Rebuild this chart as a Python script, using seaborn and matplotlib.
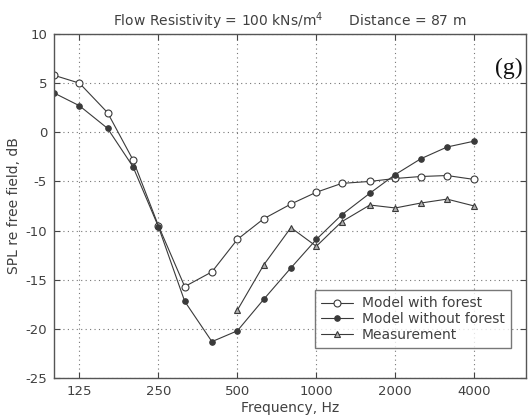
import matplotlib
matplotlib.use("Agg")
import matplotlib.pyplot as plt
import seaborn as sns
import pandas as pd
import numpy as np

sns.set_theme(style="white")
plt.rcParams['font.family'] = ['DejaVu Sans']

freq_model = [100, 125, 160, 200, 250, 315, 400, 500, 630, 800, 1000, 1250, 1600, 2000, 2500, 3150, 4000]
with_forest = [5.8, 5.0, 2.0, -2.8, -9.5, -15.7, -14.2, -10.9, -8.8, -7.3, -6.1, -5.2, -5.0, -4.7, -4.5, -4.4, -4.8]
without_forest = [4.0, 2.7, 0.4, -3.5, -9.6, -17.2, -21.3, -20.2, -17.0, -13.8, -10.9, -8.4, -6.2, -4.3, -2.7, -1.5, -0.9]
freq_meas = [500, 630, 800, 1000, 1250, 1600, 2000, 2500, 3150, 4000]
measurement = [-18.1, -13.5, -9.7, -11.6, -9.1, -7.4, -7.7, -7.2, -6.8, -7.5]

xticks = [125, 250, 500, 1000, 2000, 4000]
xticklabels = ["125", "250", "500", "1000", "2000", "4000"]
yticks = [10, 5, 0, -5, -10, -15, -20, -25]

fig = plt.figure(figsize=(5.28, 4.15), dpi=100)
ax = fig.add_axes([54/528, 37/415, 472/528, 344/415])

lc = "#3a3a3a"
sns.lineplot(x=freq_model, y=with_forest, ax=ax, color=lc, lw=0.8, marker="o",
             markersize=5, markerfacecolor="white", markeredgecolor=lc, markeredgewidth=0.8,
             label="Model with forest")
sns.lineplot(x=freq_model, y=without_forest, ax=ax, color=lc, lw=0.8, marker="o",
             markersize=4, markerfacecolor=lc, markeredgecolor=lc,
             label="Model without forest")
sns.lineplot(x=freq_meas, y=measurement, ax=ax, color=lc, lw=0.8, marker="^",
             markersize=5, markerfacecolor="#b0b0b0", markeredgecolor=lc, markeredgewidth=0.8,
             label="Measurement")

ax.set_xscale("log", base=2)
ax.set_xlim(100, 6300)
ax.set_ylim(-25, 10)
ax.set_xticks(xticks)
ax.set_xticklabels(xticklabels)
ax.minorticks_off()
ax.set_yticks(yticks)
ax.set_yticklabels([str(v) for v in yticks])
ax.tick_params(direction="in", length=4, width=0.8, colors="#444444", labelsize=9.5,
               top=True, right=True, bottom=True, left=True, pad=5)
ax.tick_params(axis="both", labelcolor="#404040")
ax.grid(True, linestyle=(0, (1, 3)), color="#777777", linewidth=0.8)
for s in ax.spines.values():
    s.set_color("#555555")
    s.set_linewidth(1.0)

ax.set_xlabel("Frequency, Hz", fontsize=10, color="#404040", labelpad=2)
ax.set_ylabel("SPL re free field, dB", fontsize=10, color="#404040", labelpad=3)
ax.set_title("Flow Resistivity = 100 kNs/m$^4$      Distance = 87 m", fontsize=10,
             color="#404040", pad=6)
ax.text((523-54)/472, (378-68)/344, "(g)", transform=ax.transAxes, fontsize=17,
        ha="right", va="center",
        family=["Liberation Serif", "DejaVu Serif"], color="#111111")

leg = ax.legend(loc="lower left", bbox_to_anchor=((315-54)/472, 30/344), fontsize=10,
                frameon=True, fancybox=False, borderpad=0.45, labelspacing=0.12,
                handlelength=2.3, handletextpad=0.6, borderaxespad=0)
leg.get_frame().set_edgecolor("#555555")
leg.get_frame().set_linewidth(1.0)
for t in leg.get_texts():
    t.set_color("#404040")

fig.savefig("out.png", dpi=100)
